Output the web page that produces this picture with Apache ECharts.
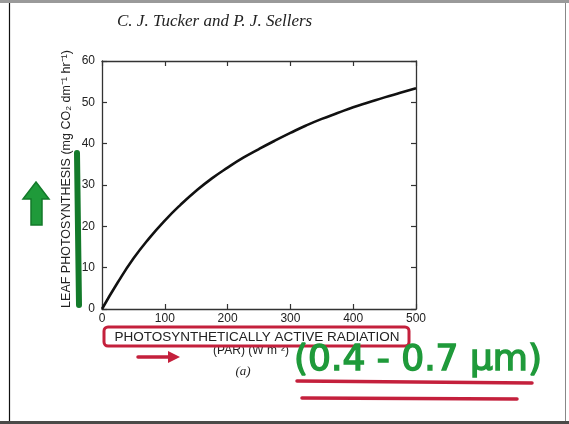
<!DOCTYPE html>
<html>
<head>
<meta charset="utf-8">
<script src="https://cdn.jsdelivr.net/npm/echarts@6/dist/echarts.min.js"></script>
<style>html,body{margin:0;padding:0;background:#fff;}#c{width:569px;height:424px;}</style>
</head>
<body>
<div id="c"></div>
<script>
// PAR (W m^-2) and leaf photosynthesis (mg CO2 dm^-1 hr^-1)
var parValues = [0, 25, 50, 75, 100, 125, 150, 175, 200, 225, 250, 275, 300, 325, 350, 375, 400, 425, 450, 475, 500];
var photoValues = [0, 6.4, 12.2, 17.1, 21.4, 25.2, 28.6, 31.6, 34.2, 36.6, 38.7, 40.7, 42.6, 44.4, 46.0, 47.4, 48.8, 50.0, 51.2, 52.3, 53.4];
var xTicks = [0, 100, 200, 300, 400, 500];
var yTicks = [0, 10, 20, 30, 40, 50, 60];

var chart = echarts.init(document.getElementById('c'), null, {renderer: 'canvas'});
var pts = parValues.map(function (v, i) { return [v, photoValues[i]]; });
var labelStyle = {color: '#222', fontFamily: 'Liberation Sans, Arial, sans-serif', fontSize: 12};
var red = '#c4203c', green = '#1f9a3a', dgreen = '#137a2a';
var lineStyle = {color: '#333', width: 1.3};
var tick = {show: true, inside: true, length: 5, lineStyle: {color: '#333', width: 1.2}};

chart.setOption({
  animation: false,
  backgroundColor: '#fff',
  grid: {left: 102, right: 153, top: 61, bottom: 115},
  xAxis: [{
    type: 'value', min: 0, max: 500, interval: 100, position: 'bottom',
    axisLine: {show: true, onZero: false, lineStyle: lineStyle},
    axisTick: tick,
    axisLabel: Object.assign({margin: 4, formatter: function (v) { return xTicks.indexOf(v) >= 0 ? v : ''; }}, labelStyle),
    splitLine: {show: false}
  }, {
    type: 'value', min: 0, max: 500, interval: 100, position: 'top',
    axisLine: {show: true, onZero: false, lineStyle: lineStyle},
    axisTick: tick,
    axisLabel: {show: false}, splitLine: {show: false}
  }],
  yAxis: [{
    type: 'value', min: 0, max: 60, interval: 10, position: 'left',
    axisLine: {show: true, onZero: false, lineStyle: lineStyle},
    axisTick: tick,
    axisLabel: Object.assign({margin: 7, formatter: function (v) { return yTicks.indexOf(v) >= 0 ? v : ''; }}, labelStyle),
    splitLine: {show: false}
  }, {
    type: 'value', min: 0, max: 60, interval: 10, position: 'right',
    axisLine: {show: true, onZero: false, lineStyle: lineStyle},
    axisTick: tick,
    axisLabel: {show: false}, splitLine: {show: false}
  }],
  series: [{
    type: 'line', data: pts, smooth: true, symbol: 'none',
    lineStyle: {color: '#111', width: 2.6}
  }],
  graphic: [
    // page frame
    {type: 'rect', shape: {x: 0, y: 0, width: 569, height: 3}, style: {fill: '#9a9a9a'}, silent: true},
    {type: 'line', shape: {x1: 9.5, y1: 3, x2: 9.5, y2: 421}, style: {stroke: '#111', lineWidth: 1.2}},
    {type: 'line', shape: {x1: 565.5, y1: 3, x2: 565.5, y2: 421}, style: {stroke: '#888', lineWidth: 1}},
    {type: 'rect', shape: {x: 0, y: 421, width: 569, height: 3}, style: {fill: '#4a4a48'}},
    // title
    {type: 'text', x: 117, y: 22, style: {text: 'C. J. Tucker and P. J. Sellers', font: 'italic 17px "Liberation Serif", serif', fill: '#222', verticalAlign: 'middle'}},
    // y-axis name
    {type: 'text', x: 67, y: 179, rotation: Math.PI / 2,
      style: {text: 'LEAF PHOTOSYNTHESIS (mg CO\u2082 dm\u207B\u00B9 hr\u207B\u00B9)', font: '12.5px "Liberation Sans", Arial, sans-serif', fill: '#222', align: 'center', verticalAlign: 'middle'}},
    // x-axis name
    {type: 'text', x: 257, y: 337, style: {text: 'PHOTOSYNTHETICALLY ACTIVE RADIATION', font: '13.5px "Liberation Sans", Arial, sans-serif', fill: '#222', align: 'center', verticalAlign: 'middle'}},
    {type: 'text', x: 251, y: 351, style: {text: '(PAR) (W m\u207B\u00B2)', font: '12px "Liberation Sans", Arial, sans-serif', fill: '#222', align: 'center', verticalAlign: 'middle'}},
    {type: 'text', x: 243, y: 372, style: {text: '(a)', font: 'italic 13px "Liberation Serif", serif', fill: '#222', align: 'center', verticalAlign: 'middle'}},
    // red box around x-axis name
    {type: 'rect', shape: {x: 104, y: 327, width: 305, height: 19, r: 4}, style: {fill: 'none', stroke: red, lineWidth: 3}},
    // red arrow
    {type: 'line', shape: {x1: 138, y1: 357, x2: 172, y2: 357}, style: {stroke: red, lineWidth: 3.5, lineCap: 'round'}},
    {type: 'polygon', shape: {points: [[168, 351], [180, 357], [168, 363]]}, style: {fill: red}},
    // green strokes on the left
    {type: 'polyline', shape: {points: [[77, 153], [78, 230], [79, 305]]}, style: {stroke: dgreen, lineWidth: 6, lineCap: 'round'}},
    {type: 'polygon', shape: {points: [[36, 182], [49, 199], [42, 199], [42, 225], [31, 225], [31, 199], [23, 199]]}, style: {fill: green, stroke: dgreen, lineWidth: 1.5}},
    // green handwriting
    {type: 'text', x: 418, y: 361, style: {text: '(0.4 - 0.7 \u03BCm)', font: '36px "DejaVu Sans", sans-serif', fill: green, stroke: green, lineWidth: 1.5, align: 'center', verticalAlign: 'middle'}},
    // red underlines
    {type: 'line', shape: {x1: 297, y1: 381, x2: 532, y2: 383}, style: {stroke: red, lineWidth: 3.5, lineCap: 'round'}},
    {type: 'line', shape: {x1: 302, y1: 398, x2: 517, y2: 399}, style: {stroke: red, lineWidth: 3.5, lineCap: 'round'}}
  ]
});
</script>
</body>
</html>
